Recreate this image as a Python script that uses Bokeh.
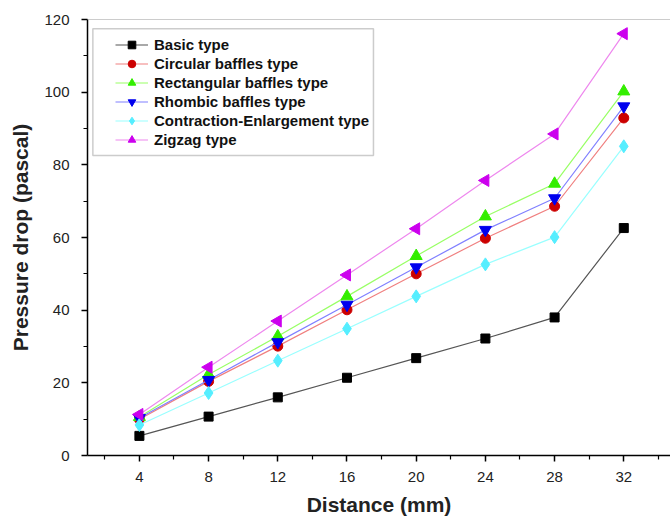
from bokeh.plotting import figure
from bokeh.models import (Range1d, FixedTicker, Legend, LegendItem, BoxAnnotation, Span)
from bokeh.embed import file_html
from bokeh.resources import INLINE

# ---- data ----
distance = [4, 8, 12, 16, 20, 24, 28, 32]
basic = [5.4, 10.7, 16.0, 21.4, 26.8, 32.2, 38.0, 62.6]
circular = [10.0, 20.4, 30.1, 40.1, 50.0, 59.8, 68.6, 92.9]
rectangular = [10.6, 22.3, 32.8, 43.8, 54.9, 65.8, 74.8, 100.2]
rhombic = [10.3, 20.8, 31.2, 41.5, 51.8, 62.1, 70.8, 96.1]
contraction = [8.4, 17.2, 26.1, 34.9, 43.8, 52.6, 60.1, 85.1]
zigzag = [11.3, 24.3, 37.0, 49.7, 62.4, 75.7, 88.5, 116.1]

series_names = ["Basic type", "Circular baffles type", "Rectangular baffles type",
                "Rhombic baffles type", "Contraction-Enlargement type", "Zigzag type"]
x_ticks = [4, 8, 12, 16, 20, 24, 28, 32]
x_minor = [2, 6, 10, 14, 18, 22, 26, 30, 34]
y_ticks = [0, 20, 40, 60, 80, 100, 120]
y_minor = [10, 30, 50, 70, 90, 110]

series = [basic, circular, rectangular, rhombic, contraction, zigzag]
markers = ["square", "circle", "triangle", "inverted_triangle", "diamond", "triangle"]
angles = [0, 0, 0, 0, 0, 1.5708]
sizes = [9, 10, 12, 12, 13, 12]
mcolors = ["#000000", "#cc0000", "#33ee00", "#0000ee", "#55eeff", "#cc00ee"]
lcolors = ["#555555", "#f08080", "#99ff66", "#8080ff", "#99ffff", "#ee88ee"]

FONT = "Liberation Sans"

p = figure(width=670, height=521, output_backend="svg", toolbar_location=None,
           x_range=Range1d(1, 34.7), y_range=Range1d(0, 120),
           min_border_left=87, min_border_right=0, min_border_top=19, min_border_bottom=66)
p.outline_line_color = None
p.xgrid.visible = False
p.ygrid.visible = False
p.background_fill_color = "white"
p.border_fill_color = "white"

items = []
for name, ys, mk, ang, sz, mc, lc in zip(series_names, series, markers, angles, sizes, mcolors, lcolors):
    r1 = p.line(distance, ys, line_color=lc, line_width=1.2)
    r2 = p.scatter(distance, ys, marker=mk, angle=ang, size=sz, fill_color=mc, line_color=mc)
    items.append(LegendItem(label=name, renderers=[r1, r2]))

for ax in (p.xaxis[0], p.yaxis[0]):
    ax.axis_line_width = 1.5
    ax.axis_line_color = "black"
    ax.major_tick_line_width = 1.5
    ax.minor_tick_line_width = 1.2
    ax.major_tick_out = 6
    ax.major_tick_in = 0
    ax.minor_tick_out = 4
    ax.minor_tick_in = 0
    ax.major_label_text_font = FONT
    ax.major_label_text_font_size = "15px"
    ax.major_label_text_color = "#222222"
    ax.axis_label_text_font = FONT
    ax.axis_label_text_font_size = "21px"
    ax.axis_label_text_font_style = "bold"
    ax.axis_label_text_color = "#222222"

p.xaxis[0].ticker = FixedTicker(ticks=x_ticks, minor_ticks=x_minor)
p.yaxis[0].ticker = FixedTicker(ticks=y_ticks, minor_ticks=y_minor)
p.xaxis[0].axis_label = "Distance (mm)"
p.yaxis[0].axis_label = "Pressure drop (pascal)"
p.xaxis[0].major_label_standoff = 10
p.xaxis[0].axis_label_standoff = 8
p.yaxis[0].major_label_standoff = 12
p.yaxis[0].axis_label_standoff = 9

p.add_layout(Span(location=120, dimension="width", line_color="#999999", line_width=1))

box = BoxAnnotation(left=1.31, right=17.53, top=117.45, bottom=82.6,
                    fill_color="white", fill_alpha=1.0, line_color="#555555", line_width=1.5)
p.add_layout(box)

legend = Legend(items=items, location=(28, 306), padding=0, spacing=0, margin=0,
                label_height=19, glyph_height=19, glyph_width=33, label_standoff=6,
                label_text_font=FONT, label_text_font_size="15px", label_text_font_style="bold",
                label_text_color="#111111", border_line_alpha=0, background_fill_alpha=0)
p.add_layout(legend)

open("out.html", "w").write(file_html(p, INLINE))
